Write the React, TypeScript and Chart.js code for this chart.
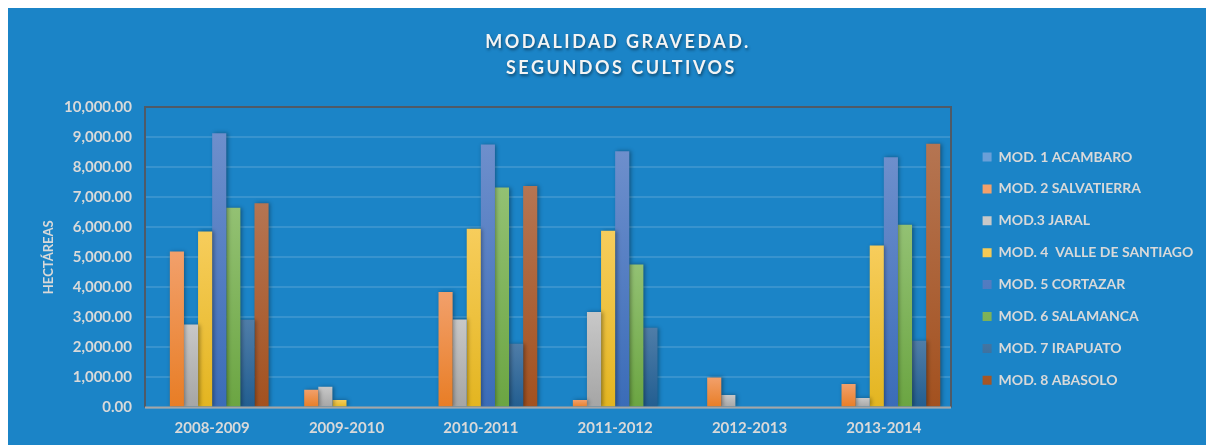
import React, { useEffect, useRef } from "react";
import { Chart, registerables } from "chart.js";
Chart.register(...registerables);

const categories = ["2008-2009", "2009-2010", "2010-2011", "2011-2012", "2012-2013", "2013-2014"];
const seriesNames = [
  "MOD. 1 ACAMBARO",
  "MOD. 2 SALVATIERRA",
  "MOD.3 JARAL",
  "MOD. 4  VALLE DE SANTIAGO",
  "MOD. 5 CORTAZAR",
  "MOD. 6 SALAMANCA",
  "MOD. 7 IRAPUATO",
  "MOD. 8 ABASOLO",
];
const mod1 = [0, 0, 0, 0, 0, 0];
const mod2 = [5190, 590, 3840, 250, 1000, 780];
const mod3 = [2760, 690, 2930, 3180, 420, 315];
const mod4 = [5860, 250, 5950, 5880, 0, 5390];
const mod5 = [9130, 0, 8750, 8530, 0, 8330];
const mod6 = [6650, 0, 7320, 4760, 0, 6080];
const mod7 = [2920, 0, 2120, 2650, 0, 2220];
const mod8 = [6800, 0, 7370, 0, 0, 8780];
const yTickValues = [0, 1000, 2000, 3000, 4000, 5000, 6000, 7000, 8000, 9000, 10000];
const titleLines = ["MODALIDAD GRAVEDAD.", " SEGUNDOS CULTIVOS"];
const yAxisTitle = "HECTÁREAS";

const seriesValues = [mod1, mod2, mod3, mod4, mod5, mod6, mod7, mod8];
// [legend colour, gradient top, gradient bottom]
const palette = [
  ["#6A9FD8", "#8FB4E3", "#5B8FD0"],
  ["#ED7D31", "#F2A06B", "#E87D25"],
  ["#B4B4B4", "#C8C8C8", "#A5A5A5"],
  ["#F2C811", "#F7CD5C", "#E3B520"],
  ["#4C72BC", "#6E8FCC", "#3A6CB8"],
  ["#70AD47", "#93C173", "#6BA542"],
  ["#2E6699", "#4F7DA8", "#225E91"],
  ["#B0582A", "#B57552", "#A3511F"],
];

const TEXT = "#D9D9D9";
const FONT = "Lato";

export default function App() {
  const ref = useRef<HTMLCanvasElement>(null);

  useEffect(() => {
    document.body.style.overflow = "hidden";
    const canvas = ref.current;
    if (!canvas) return;

    const fmt = new Intl.NumberFormat("en-US", { minimumFractionDigits: 2, maximumFractionDigits: 2 });

    const datasets = seriesValues.map((vals, i) => ({
      label: seriesNames[i],
      data: vals,
      backgroundColor: (c: any) => {
        const base = palette[i][0];
        if (c.type !== "data") return base;
        const chart = c.chart;
        if (!chart.chartArea || !chart.scales.y) return base;
        const v = c.raw;
        if (!v) return base;
        const y = chart.scales.y.getPixelForValue(v);
        const y0 = chart.scales.y.getPixelForValue(0);
        const g = chart.ctx.createLinearGradient(0, y, 0, y0);
        g.addColorStop(0, palette[i][1]);
        g.addColorStop(1, palette[i][2]);
        return g;
      },
      borderWidth: 0,
      categoryPercentage: 0.84,
      barPercentage: 1,
    }));

    const layoutPlugin = {
      id: "layoutFix",
      beforeInit(chart: any) {
        const lg = chart.legend;
        if (lg && !lg.__patched) {
          const orig = lg.fit;
          lg.fit = function () {
            orig.call(this);
            this.width = 263;
          };
          lg.__patched = true;
        }
      },
      afterLayout(chart: any) {
        const lg = chart.legend;
        if (lg) {
          lg.left = 956.7;
          lg.top = 124.1;
        }
      },
    };

    const shadowPlugin = {
      id: "barShadow",
      beforeDatasetDraw(chart: any) {
        const ctx = chart.ctx;
        ctx.save();
        ctx.shadowColor = "rgba(0,0,0,0.35)";
        ctx.shadowBlur = 4;
        ctx.shadowOffsetX = 1.5;
        ctx.shadowOffsetY = 0;
      },
      afterDatasetDraw(chart: any) {
        chart.ctx.restore();
      },
    };

    const framePlugin = {
      id: "frame",
      afterDatasetsDraw(chart: any) {
        const { ctx, chartArea: a } = chart;
        ctx.save();
        ctx.lineWidth = 2;
        ctx.strokeStyle = "#505A66";
        ctx.beginPath();
        ctx.moveTo(a.left, a.bottom);
        ctx.lineTo(a.left, a.top);
        ctx.lineTo(a.right, a.top);
        ctx.lineTo(a.right, a.bottom);
        ctx.stroke();
        ctx.strokeStyle = "#A6A6A6";
        ctx.beginPath();
        ctx.moveTo(a.left, a.bottom);
        ctx.lineTo(a.right, a.bottom);
        ctx.stroke();
        ctx.restore();
      },
    };

    const titlePlugin = {
      id: "spacedTitle",
      afterDraw(chart: any) {
        const ctx = chart.ctx;
        ctx.save();
        ctx.font = `bold 18px ${FONT}`;
        (ctx as any).letterSpacing = "2.5px";
        ctx.textAlign = "center";
        ctx.textBaseline = "middle";
        ctx.fillStyle = "#F4F4F4";
        ctx.shadowColor = "rgba(0,0,0,0.45)";
        ctx.shadowBlur = 3;
        ctx.shadowOffsetX = 1;
        ctx.shadowOffsetY = 2;
        ctx.fillText(titleLines[0], 610, 34);
        ctx.fillText(titleLines[1], 610, 60);
        ctx.restore();
      },
    };

    const chart = new Chart(canvas, {
      type: "bar",
      data: { labels: categories, datasets: datasets as any },
      plugins: [layoutPlugin, shadowPlugin, framePlugin, titlePlugin],
      options: {
        animation: false,
        responsive: false,
        maintainAspectRatio: false,
        layout: { padding: { top: 99, left: 0, right: 0, bottom: 0 } },
        plugins: {
          title: { display: false },
          tooltip: { enabled: false },
          legend: {
            display: true,
            position: "right",
            align: "start",
            labels: {
              boxWidth: 9,
              boxHeight: 9,
              padding: 17.9,
              color: TEXT,
              font: { family: FONT, weight: "bold", size: 14 },
            },
          },
        },
        scales: {
          x: {
            grid: { display: false, drawTicks: false },
            border: { display: false },
            ticks: {
              color: TEXT,
              padding: 12,
              font: { family: FONT, weight: "bold", size: 15 },
              maxRotation: 0,
            },
            afterFit: (s: any) => {
              s.height = 37.5;
            },
          },
          y: {
            min: 0,
            max: 10000,
            afterBuildTicks: (s: any) => {
              s.ticks = yTickValues.map((v) => ({ value: v }));
            },
            grid: { color: "rgba(255,255,255,0.13)", lineWidth: 2, drawTicks: false },
            border: { display: false },
            ticks: {
              color: TEXT,
              padding: 13,
              font: { family: FONT, weight: "bold", size: 15 },
              callback: (v: any) => fmt.format(Number(v)),
            },
            title: {
              display: true,
              text: yAxisTitle,
              color: TEXT,
              font: { family: FONT, weight: "bold", size: 13 },
              padding: { top: 33.2, bottom: 0 },
            },
            afterFit: (s: any) => {
              s.width = 137;
            },
          },
        },
      },
    });

    return () => chart.destroy();
  }, []);

  return (
    <div style={{ width: 1206, height: 437, background: "#1B84C7" }}>
      <canvas ref={ref} width={1206} height={437} style={{ display: "block", width: 1206, height: 437 }} />
    </div>
  );
}
